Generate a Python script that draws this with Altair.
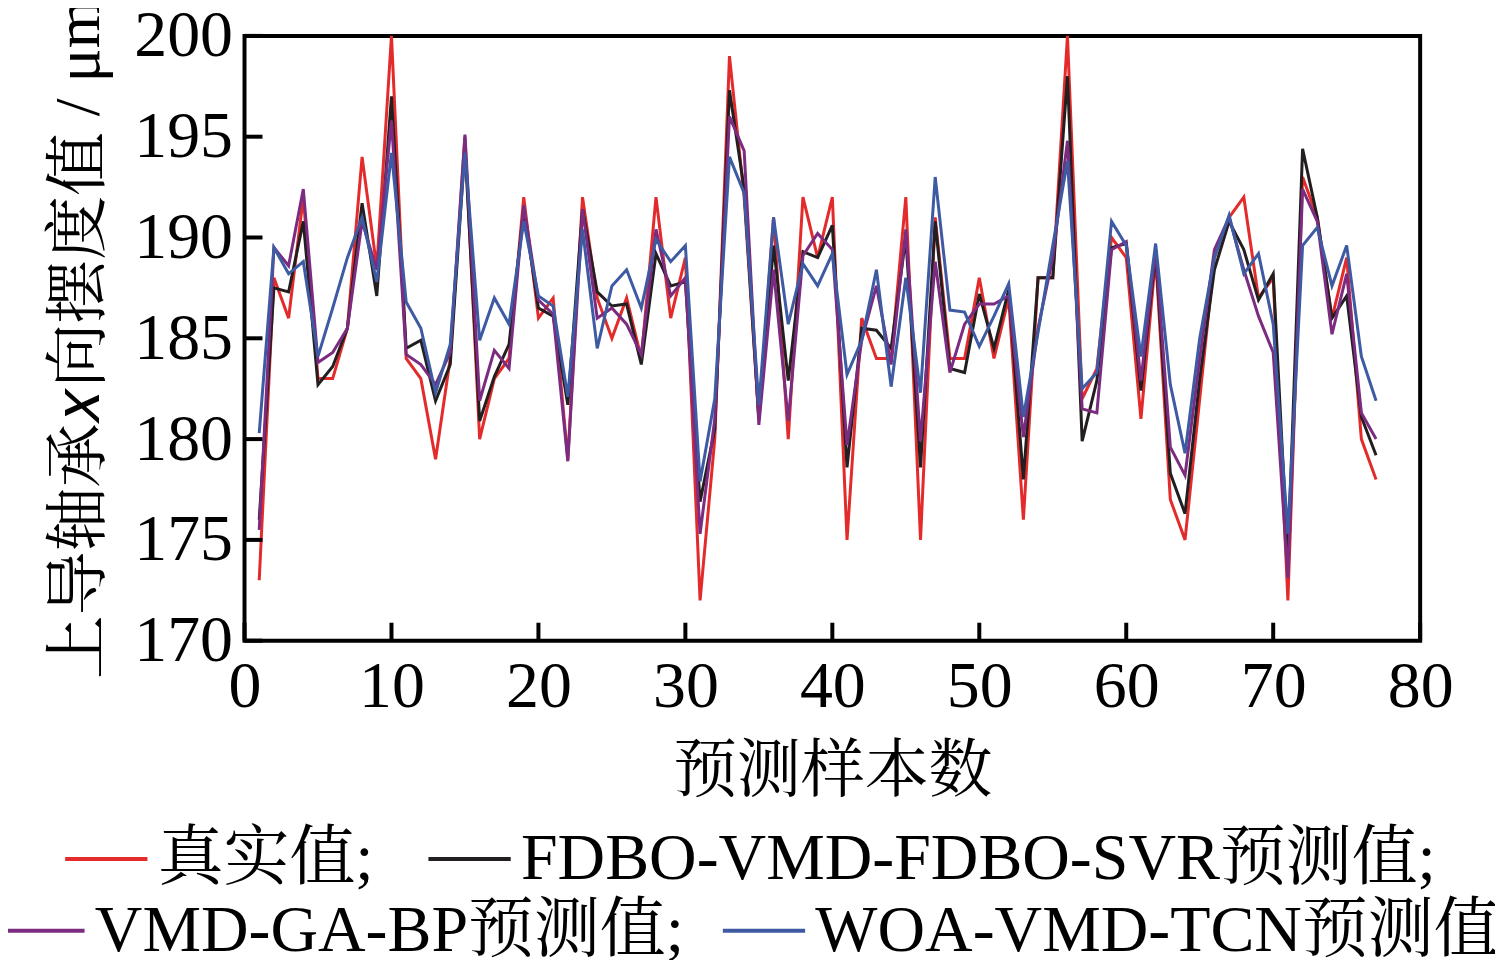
import altair as alt
import pandas as pd

samples = list(range(1, 78))

true_vals = [173, 188, 186, 192, 183, 183, 185.5, 194, 188.5, 200,
             184, 183, 179, 184, 195, 180, 183, 184, 192, 186,
             187, 179, 192, 187, 185, 187, 184, 192, 186, 189,
             172, 180, 199, 192, 181, 191, 180, 192, 189, 192,
             175, 186, 184, 184, 192, 175, 191, 184, 184, 188,
             184, 187, 176, 188, 188, 200, 182, 183.5, 190, 189,
             181, 189, 177, 175, 182, 189, 191, 192, 187, 188,
             172, 193, 191, 186, 189, 180, 178]

fdbo_svr = [176, 187.5, 187.3, 190.8, 182.7, 183.6, 185.5, 191.7, 187.1, 197.0,
            184.5, 184.9, 181.9, 183.7, 194.5, 180.9, 183.1, 184.7, 191.4, 186.5,
            186.1, 181.7, 191.4, 187.3, 186.6, 186.7, 183.7, 189.2, 187.6, 187.8,
            176.9, 180.5, 197.3, 192.4, 181.0, 189.6, 182.9, 189.3, 189.0, 190.6,
            178.6, 185.5, 185.4, 184.5, 190.0, 178.6, 190.8, 183.5, 183.3, 187.2,
            184.5, 187.4, 178.0, 188.0, 188.0, 198.0, 179.9, 182.9, 189.5, 189.7,
            182.4, 189.2, 178.3, 176.3, 183.0, 188.4, 190.8, 189.4, 186.9, 188.2,
            174.1, 194.4, 191.0, 186.0, 187.1, 181.1, 179.2]

ga_bp = [175.5, 189.5, 188.6, 192.4, 183.8, 184.3, 185.5, 190.8, 188.4, 195.8,
         184.2, 183.7, 182.7, 184.3, 195.1, 181.9, 184.4, 183.5, 191.6, 186.9,
         186.2, 178.9, 191.4, 186.0, 186.5, 185.7, 184.2, 190.4, 187.1, 188.0,
         175.3, 181.0, 196.0, 194.3, 180.7, 188.4, 180.9, 189.1, 190.2, 189.4,
         179.7, 184.9, 187.6, 183.7, 190.4, 179.9, 188.8, 183.3, 185.7, 186.7,
         186.7, 187.1, 180.1, 185.5, 189.0, 194.8, 181.5, 181.3, 189.4, 189.8,
         182.9, 189.4, 179.6, 178.2, 184.0, 189.4, 191.0, 188.4, 186.1, 184.3,
         173.1, 192.4, 190.8, 185.2, 188.2, 181.3, 180.0]

woa_tcn = [180.3, 189.5, 188.2, 188.8, 184.1, 186.5, 189.0, 191.0, 187.8, 194.2,
           186.8, 185.5, 182.3, 184.7, 194.2, 184.9, 187.0, 185.7, 190.8, 187.1,
           186.6, 182.1, 190.4, 184.5, 187.6, 188.4, 186.5, 189.9, 188.8, 189.6,
           177.9, 182.0, 194.0, 192.2, 181.7, 191.0, 185.7, 188.7, 187.6, 189.2,
           183.2, 184.9, 188.4, 182.6, 188.0, 182.3, 193.0, 186.4, 186.3, 184.6,
           186.1, 187.7, 181.1, 185.3, 189.6, 193.8, 182.5, 183.3, 190.8, 189.6,
           184.1, 189.7, 182.7, 179.3, 185.0, 189.0, 191.1, 188.2, 189.2, 185.7,
           175.3, 189.6, 190.5, 187.6, 189.6, 184.1, 181.9]

names_row1 = ["真实值;", "FDBO-VMD-FDBO-SVR预测值;"]
names_row2 = ["VMD-GA-BP预测值;", "WOA-VMD-TCN预测值"]
colors_row1 = ["#e42b2b", "#231f20"]
colors_row2 = ["#7c2c80", "#3d5aa3"]

x_ticks = [0, 10, 20, 30, 40, 50, 60, 70, 80]
y_ticks = [170, 175, 180, 185, 190, 195, 200]

FONT = "Liberation Serif, Noto Serif CJK SC, Noto Sans CJK SC"
W, H = 1178, 606

def long_frame(names, series):
    rows = []
    for name, vals in zip(names, series):
        for s, v in zip(samples, vals):
            rows.append({"sample": s, "value": v, "model": name})
    return pd.DataFrame(rows)

df1 = long_frame(names_row1, [true_vals, fdbo_svr])
df2 = long_frame(names_row2, [ga_bp, woa_tcn])

x_enc = alt.X("sample:Q",
              scale=alt.Scale(domain=[0, 80], nice=False),
              axis=alt.Axis(values=x_ticks, title="预测样本数", grid=False,
                            domain=False, ticks=False, tickSize=0,
                            labelFont=FONT, labelFontSize=66, labelColor="black",
                            labelFlush=False, labelPadding=14,
                            titleFont=FONT, titleFontSize=64, titleColor="black",
                            titleFontWeight="normal", titlePadding=20))
y_enc = alt.Y("value:Q",
              scale=alt.Scale(domain=[170, 200], nice=False),
              axis=alt.Axis(values=y_ticks, title="上导轴承𝑥向摆度值 / μm", grid=False,
                            domain=False, ticks=False, tickSize=0,
                            labelFont=FONT, labelFontSize=66, labelColor="black",
                            labelPadding=12,
                            titleFont=FONT, titleFontSize=64, titleColor="black",
                            titleFontWeight="normal", titlePadding=22))

def legend(y, xoff, pad):
    return alt.Legend(title=None, orient="none", direction="horizontal",
                      legendX=xoff, legendY=y, padding=0,
                      symbolType="stroke", symbolSize=6800, symbolStrokeWidth=4,
                      labelFont=FONT, labelFontSize=66, labelColor="black",
                      labelLimit=2000, labelOffset=8, columnPadding=pad)

lines1 = alt.Chart(df1).mark_line(strokeWidth=3).encode(
    x=x_enc, y=y_enc,
    color=alt.Color("model:N",
                    scale=alt.Scale(domain=names_row1, range=colors_row1),
                    legend=legend(781, -182, 46)),
)

lines2 = alt.Chart(df2).mark_line(strokeWidth=3).encode(
    x="sample:Q", y="value:Q",
    stroke=alt.Stroke("model:N",
                      scale=alt.Scale(domain=names_row2, range=colors_row2),
                      legend=legend(853, -245, 30)),
)

xt = alt.Chart(pd.DataFrame({"t": x_ticks})).mark_rule(color="black", strokeWidth=4).encode(
    x="t:Q", y=alt.value(H), y2=alt.value(H - 18))
yt = alt.Chart(pd.DataFrame({"v": y_ticks})).mark_rule(color="black", strokeWidth=4).encode(
    y="v:Q", x=alt.value(0), x2=alt.value(18))

chart = alt.layer(lines1, lines2, xt, yt).properties(
    width=W, height=H,
    background="white",
    autosize=alt.AutoSizeParams(type="none"),
    padding={"left": 237, "top": 27, "right": 75, "bottom": 319},
).configure_view(stroke="black", strokeWidth=4)

chart.save("out.html", embed_options={"renderer": "svg", "actions": False})
